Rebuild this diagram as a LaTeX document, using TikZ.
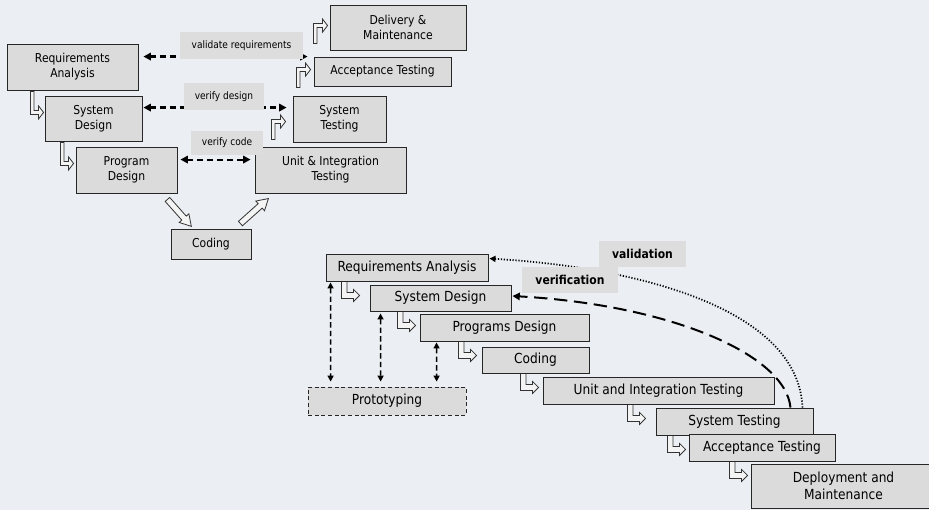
\documentclass[tikz,border=0pt]{standalone}
\usepackage{fontspec}
\setmainfont{DejaVu Sans}[FakeStretch=0.88]
\usetikzlibrary{arrows.meta,calc}

\definecolor{pagebg}{HTML}{EBEEF2}
\definecolor{boxfill}{HTML}{DBDBDB}
\definecolor{tagfill}{HTML}{DDDDDD}
\definecolor{hollowfill}{HTML}{F4F4F4}

\pgfdeclarelayer{pagelayer}
\pgfdeclarelayer{under}
\pgfsetlayers{pagelayer,under,main}

% box from corner (x1,y1) to (x2,y2), given in pixel units
\newcommand\pbox[7]{%
  \pgfmathsetmacro\pbcx{(#3+#5)/2}%
  \pgfmathsetmacro\pbcy{(#4+#6)/2}%
  \pgfmathsetmacro\pbw{(#5-#3)*0.75}%
  \pgfmathsetmacro\pbh{(#6-#4)*0.75}%
  \node[#2, minimum width=\pbw pt, minimum height=\pbh pt] (#1) at (\pbcx,\pbcy) {#7};%
}

\begin{document}
\begin{tikzpicture}[x=0.75pt, y=-0.75pt,
  box/.style={draw=black!85, line width=0.65pt, fill=boxfill, inner sep=0pt, align=center},
  topbox/.style={box, font=\fontsize{9.2}{11.25}\selectfont},
  lowbox/.style={box, line width=0.7pt, font=\fontsize{10.4}{12.5}\selectfont},
  protobox/.style={lowbox, line width=0.6pt, dash pattern=on 3pt off 2pt},
  tag/.style={fill=tagfill, inner sep=0pt, font=\fontsize{7.7}{9}\selectfont},
  boldtag/.style={fill=tagfill, inner sep=0pt, font=\bfseries\fontsize{9.2}{11}\selectfont},
  hollow/.style={draw=black!80, fill=hollowfill, line width=0.6pt},
  tip/.tip={Triangle[length=5.5pt, width=5.5pt]},
  smalltip/.tip={Triangle[length=4.5pt, width=4.5pt]},
  topdash/.style={line width=1.6pt, dash pattern=on 4.5pt off 3pt, tip-tip},
  vdash/.style={line width=1.1pt, dash pattern=on 4pt off 2.4pt, smalltip-smalltip},
  longdash/.style={line width=1.5pt, dash pattern=on 10pt off 5pt, -tip},
  dotline/.style={line width=1.3pt, dash pattern=on 0.9pt off 1.3pt, -smalltip},
  pics/stepdown/.style={code={\path[hollow] (0,0) -- (3.5,0) -- (3.5,19) -- (8,19) -- (8,14.5) -- (13,21) -- (8,27.5) -- (8,23) -- (0,23) -- cycle;}},
  pics/stepup/.style={code={\path[hollow] (0,0) -- (3.5,0) -- (3.5,-16) -- (9,-16) -- (9,-11.5) -- (14,-18) -- (9,-24.5) -- (9,-20) -- (0,-20) -- cycle;}},
  pics/stepbig/.style={code={\path[hollow] (0,0) -- (5.5,0) -- (5.5,11) -- (12,11) -- (12,8) -- (18,14) -- (12,20) -- (12,17) -- (0,17) -- cycle;}},
  pics/blockarr/.style={code={\path[hollow] (0,-3) -- (#1-11,-3) -- (#1-11,-6.5) -- (#1,0) -- (#1-11,6.5) -- (#1-11,3) -- (0,3) -- cycle;}},
]
\begin{pgfonlayer}{pagelayer}
  \fill[pagebg] (0,0) rectangle (929,510);
\end{pgfonlayer}
\useasboundingbox (0,0) rectangle (929,510);

% ---------- V model ----------
\pbox{ra}{topbox}{7}{44}{138}{90}{Requirements\\Analysis}
\pbox{sd}{topbox}{45}{96}{142}{141}{System\\Design}
\pbox{pd}{topbox}{76}{147}{177}{193}{Program\\Design}
\pbox{cod}{topbox}{171}{229}{251}{259}{Coding}
\pbox{uit}{topbox}{255}{147}{406}{193}{Unit \& Integration\\Testing}
\pbox{st}{topbox}{293}{96}{386}{142}{System\\Testing}
\pbox{at}{topbox}{314}{57}{451}{86}{Acceptance Testing}
\pbox{dm}{topbox}{330}{5}{466}{50}{Delivery \&\\Maintenance}

\pbox{vr}{tag}{180}{32}{303}{59}{validate requirements}
\pbox{vd}{tag}{184}{83}{264}{110}{verify design}
\pbox{vc}{tag}{191}{131}{263}{155}{verify code}

% ---------- waterfall with prototyping ----------
\pbox{bra}{lowbox}{326}{254}{488}{281}{Requirements Analysis}
\pbox{bsd}{lowbox}{370}{285}{511}{311}{System Design}
\pbox{bpd}{lowbox}{420}{314}{589}{341}{Programs Design}
\pbox{bco}{lowbox}{482}{347}{589}{373}{Coding}
\pbox{bui}{lowbox}{543}{377}{774}{404}{Unit and Integration Testing}
\pbox{bst}{lowbox}{656}{408}{813}{435}{System Testing}
\pbox{bat}{lowbox}{689}{434}{835}{461}{Acceptance Testing}
\pbox{bdm}{lowbox}{751}{464}{936}{508}{Deployment and\\Maintenance}
\pbox{bpr}{protobox}{308}{387}{466}{415}{Prototyping}

\pbox{val}{boldtag}{599}{241}{686}{267}{validation}
\pbox{ver}{boldtag}{522}{267}{618}{293}{verification}

\begin{pgfonlayer}{under}
  % V model: checks between the two legs
  \draw[topdash] ($(ra.north east)+(5,13)$) -- ($(at.north west)+(-6,0)$);
  \draw[topdash] ($(sd.north east)+(1,12)$) -- ($(st.north west)+(-6,12)$);
  \draw[topdash] ($(pd.north east)+(3,13)$) -- ($(uit.north west)+(-4,13)$);
  % V model: stage arrows
  \pic at ($(ra.south west)+(24,1)$) {stepdown};
  \pic at ($(sd.south west)+(16,1)$) {stepdown};
  \pic[rotate=-48.4] at ($(pd.south east)+(-10,6)$) {blockarr=36};
  \pic[rotate=41.8] at ($(cod.north east)+(-11,-5)$) {blockarr=37.5};
  \pic at ($(uit.north west)+(17,-7)$) {stepup};
  \pic at ($(st.north west)+(4,-8)$) {stepup};
  \pic at ($(at.north west)+(0,-13)$) {stepup};

  % waterfall: stage arrows
  \pic at ($(bra.south west)+(16,0)$) {stepbig};
  \pic at ($(bsd.south west)+(28,0)$) {stepbig};
  \pic at ($(bpd.south west)+(39,0)$) {stepbig};
  \pic at ($(bco.south west)+(39,0)$) {stepbig};
  \pic at ($(bui.south west)+(85,0)$) {stepbig};
  \pic at ($(bst.south west)+(12,0)$) {stepbig};
  \pic at ($(bat.south west)+(41,0)$) {stepbig};

  % waterfall: prototyping links
  \draw[vdash] ($(bra.south west)+(5,1)$) -- ($(bpr.north west)+(23,-5)$);
  \draw[vdash] ($(bsd.south west)+(11,2)$) -- ($(bpr.north west)+(73,-5)$);
  \draw[vdash] ($(bpd.south west)+(17,1)$) -- ($(bpr.north west)+(129,-5)$);

  % waterfall: validation and verification loops
  \draw[dotline] ($(bst.north east)+(-11,0)$) .. controls +(-4,-98) and +(151,9) .. ($(bra.north east)+(1,5)$);
  \draw[longdash] ($(bst.north east)+(-23,0)$) .. controls +(-5,-53) and +(158,9) .. ($(bsd.east)+(1,-2)$);
\end{pgfonlayer}
\end{tikzpicture}
\end{document}
